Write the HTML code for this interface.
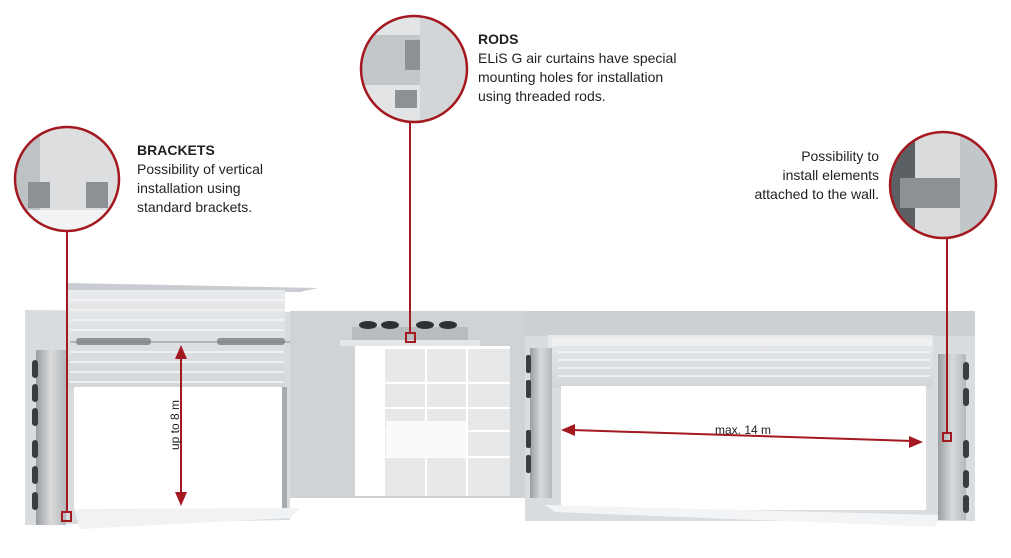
<!DOCTYPE html>
<html><head><meta charset="utf-8"><style>
body{margin:0;background:#fff;width:1011px;height:553px;overflow:hidden;font-family:"Liberation Sans",sans-serif}
</style></head><body>
<svg width="1011" height="553" viewBox="0 0 1011 553" xmlns="http://www.w3.org/2000/svg" font-family="Liberation Sans, sans-serif">
<defs>
<linearGradient id="box" x1="0" y1="0" x2="0" y2="1"><stop offset="0" stop-color="#e8eaec"/><stop offset="1" stop-color="#d3d6d9"/></linearGradient>
<linearGradient id="cur" x1="0" y1="0" x2="1" y2="0"><stop offset="0" stop-color="#9a9da1"/><stop offset=".5" stop-color="#d8dadc"/><stop offset="1" stop-color="#b5b8bb"/></linearGradient>
<clipPath id="c1"><circle cx="67" cy="179" r="51"/></clipPath>
<clipPath id="c2"><circle cx="414" cy="69" r="52"/></clipPath>
<clipPath id="c3"><circle cx="943" cy="185" r="52"/></clipPath>
</defs>
<polygon points="25,310 290,312 290,520 25,525" fill="#d9dcdf"/>
<rect x="290" y="311" width="235" height="187" fill="#d0d3d6"/>
<rect x="525" y="311" width="450" height="210" fill="#dadde0"/>
<rect x="525" y="311" width="450" height="25" fill="#cdd0d3"/>
<polygon points="68,283 318,288 300,292 68,290" fill="#c9ccd0"/>
<rect x="68" y="290" width="217" height="100" fill="url(#box)"/>
<g stroke="#f4f5f6" stroke-width="1.5">
<line x1="70" y1="300" x2="284" y2="300"/><line x1="70" y1="310" x2="284" y2="310"/><line x1="70" y1="320" x2="284" y2="320"/><line x1="70" y1="330" x2="284" y2="330"/><line x1="70" y1="352" x2="284" y2="352"/><line x1="70" y1="362" x2="284" y2="362"/><line x1="70" y1="372" x2="284" y2="372"/><line x1="70" y1="382" x2="284" y2="382"/></g>
<rect x="76" y="338" width="75" height="7" rx="3" fill="#8e9195"/>
<rect x="217" y="338" width="68" height="7" rx="3" fill="#8e9195"/>
<line x1="70" y1="342" x2="290" y2="342" stroke="#888" stroke-width="1"/>
<rect x="74" y="387" width="208" height="122" fill="#fff"/>
<rect x="282" y="387" width="5" height="122" fill="#a9acaf"/>
<polygon points="74,509 300,508 290,518 80,529" fill="#f1f2f3"/>
<rect x="36" y="350" width="30" height="175" fill="url(#cur)"/>
<g fill="#3a3d40"><rect x="32" y="360" width="6" height="18" rx="3"/><rect x="32" y="384" width="6" height="18" rx="3"/><rect x="32" y="408" width="6" height="18" rx="3"/><rect x="32" y="440" width="6" height="18" rx="3"/><rect x="32" y="466" width="6" height="18" rx="3"/><rect x="32" y="492" width="6" height="18" rx="3"/></g>
<rect x="352" y="327" width="116" height="19" fill="#b9bcbf"/>
<g fill="#2e3134"><ellipse cx="368" cy="325" rx="9" ry="4"/><ellipse cx="390" cy="325" rx="9" ry="4"/><ellipse cx="425" cy="325" rx="9" ry="4"/><ellipse cx="448" cy="325" rx="9" ry="4"/></g>
<rect x="340" y="340" width="140" height="6" fill="#e3e5e7"/>
<rect x="355" y="346" width="155" height="150" fill="#fff"/>
<rect x="385" y="349" width="125" height="147" fill="#e6e8ea"/>
<g stroke="#fff" stroke-width="2"><line x1="426" y1="349" x2="426" y2="496"/><line x1="467" y1="349" x2="467" y2="496"/><line x1="385" y1="383" x2="510" y2="383"/><line x1="385" y1="408" x2="510" y2="408"/><line x1="385" y1="431" x2="510" y2="431"/><line x1="385" y1="457" x2="510" y2="457"/></g>
<rect x="386" y="421" width="80" height="36" fill="#fafafa"/>
<rect x="548" y="335" width="385" height="53" fill="url(#box)"/>
<g stroke="#f4f5f6" stroke-width="1.5"><line x1="558" y1="352" x2="930" y2="352"/><line x1="558" y1="360" x2="930" y2="360"/><line x1="558" y1="368" x2="930" y2="368"/><line x1="558" y1="376" x2="930" y2="376"/></g>
<rect x="552" y="338" width="380" height="8" fill="#eef0f1"/>
<rect x="561" y="386" width="365" height="124" fill="#fff"/>
<polygon points="545,505 940,515 935,527 555,512" fill="#f3f4f5"/>
<rect x="530" y="348" width="22" height="150" fill="url(#cur)"/>
<rect x="938" y="354" width="28" height="166" fill="url(#cur)"/>
<g fill="#3a3d40"><rect x="526" y="355" width="5" height="18" rx="2"/><rect x="526" y="380" width="5" height="18" rx="2"/><rect x="526" y="430" width="5" height="18" rx="2"/><rect x="526" y="455" width="5" height="18" rx="2"/><rect x="963" y="362" width="6" height="18" rx="3"/><rect x="963" y="388" width="6" height="18" rx="3"/><rect x="963" y="440" width="6" height="18" rx="3"/><rect x="963" y="470" width="6" height="18" rx="3"/><rect x="963" y="495" width="6" height="18" rx="3"/></g>
<g clip-path="url(#c1)"><rect x="10" y="120" width="120" height="120" fill="#dcdee0"/><rect x="10" y="120" width="30" height="120" fill="#bfc2c5"/><rect x="28" y="182" width="22" height="26" fill="#8d9094"/><rect x="86" y="182" width="22" height="26" fill="#8d9094"/><rect x="10" y="210" width="120" height="30" fill="#f2f3f4"/></g>
<circle cx="67" cy="179" r="52" fill="none" stroke="#a3191f" stroke-width="2.5"/>
<g clip-path="url(#c2)"><rect x="355" y="10" width="120" height="120" fill="#e2e4e6"/><rect x="355" y="35" width="120" height="50" fill="#c4c7ca"/><rect x="405" y="40" width="28" height="30" fill="#8d9094"/><rect x="395" y="90" width="22" height="18" fill="#8d9094"/><rect x="420" y="10" width="55" height="120" fill="#d3d6d9"/></g>
<circle cx="414" cy="69" r="53" fill="none" stroke="#a3191f" stroke-width="2.5"/>
<g clip-path="url(#c3)"><rect x="885" y="130" width="120" height="120" fill="#d9dbdd"/><rect x="885" y="130" width="30" height="120" fill="#5c5f63"/><rect x="900" y="178" width="80" height="30" fill="#8d9094"/><rect x="960" y="130" width="40" height="120" fill="#c3c6c9"/></g>
<circle cx="943" cy="185" r="53" fill="none" stroke="#a3191f" stroke-width="2.5"/>
<g stroke="#a3191f" stroke-width="2" fill="none">
<line x1="67" y1="231" x2="67" y2="512"/><rect x="62" y="512" width="9" height="9"/>
<line x1="410" y1="122" x2="410" y2="333"/><rect x="406" y="333" width="9" height="9"/>
<line x1="947" y1="238" x2="947" y2="433"/><rect x="943" y="433" width="8" height="8"/>
<line x1="181" y1="355" x2="181" y2="496"/>
<line x1="572" y1="430" x2="912" y2="441"/>
</g>
<g fill="#a3191f">
<polygon points="181,345 175,359 187,359"/><polygon points="181,506 175,492 187,492"/>
<polygon points="561,430 575,424 575,436"/><polygon points="923,442 909,436 909,448"/>
</g>
<text transform="translate(179,425) rotate(-90)" text-anchor="middle" font-size="12" fill="#222">up to 8 m</text>
<text x="743" y="434" text-anchor="middle" font-size="12" fill="#222">max. 14 m</text>
<g font-size="14" fill="#231f20">
<text x="137" y="155" font-weight="bold">BRACKETS</text>
<text x="137" y="174">Possibility of vertical</text>
<text x="137" y="193">installation using</text>
<text x="137" y="212">standard brackets.</text>
<text x="478" y="44" font-weight="bold">RODS</text>
<text x="478" y="63">ELiS G air curtains have special</text>
<text x="478" y="82">mounting holes for installation</text>
<text x="478" y="101">using threaded rods.</text>
<text x="879" y="161" text-anchor="end">Possibility to</text>
<text x="879" y="180" text-anchor="end">install elements</text>
<text x="879" y="199" text-anchor="end">attached to the wall.</text>
</g>
</svg>
</body></html>
